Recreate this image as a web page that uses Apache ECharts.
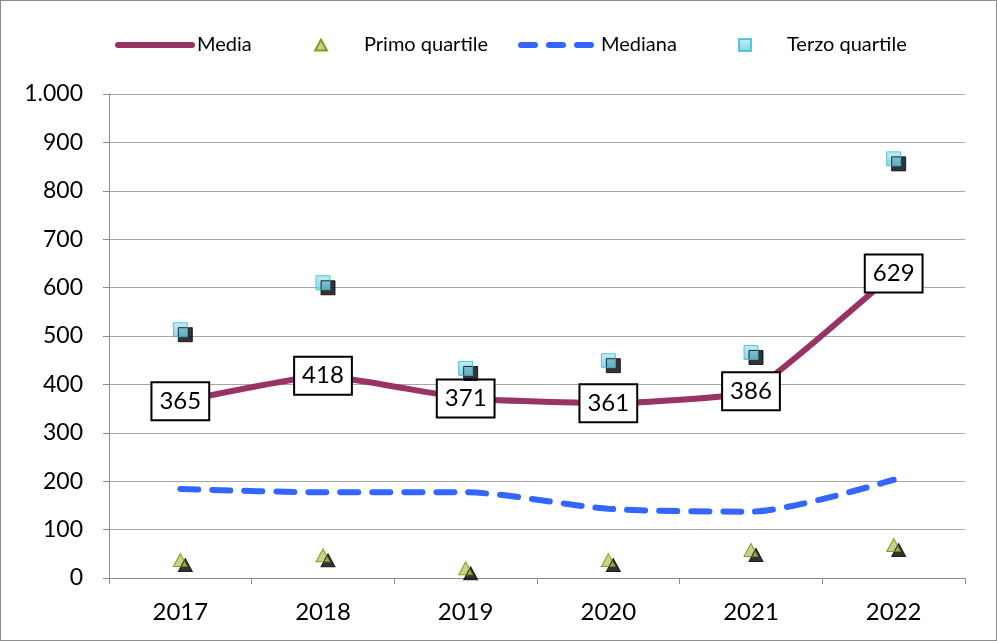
<!DOCTYPE html>
<html>
<head>
<meta charset="utf-8">
<script src="https://cdn.jsdelivr.net/npm/echarts@6/dist/echarts.min.js"></script>
<style>
  html, body { margin: 0; padding: 0; background: #fff; }
  #chart { width: 995px; height: 639px; border: 1px solid #8c8c8c; }
</style>
</head>
<body>
<div id="chart"></div>
<script>
const years = ['2017', '2018', '2019', '2020', '2021', '2022'];
const media = [365, 418, 371, 361, 386, 629];
const mediana = [184, 177, 177, 143, 137, 203];
const primoQuartile = [37, 47, 20, 37, 58, 68];
const terzoQuartile = [513, 610, 433, 449, 466, 866];

const FONT = 'Lato, "Liberation Sans", sans-serif';
const shadow = { shadowColor: '#000', shadowBlur: 0, shadowOffsetX: 5, shadowOffsetY: 5 };

const chart = echarts.init(document.getElementById('chart'));

const legendText = { color: '#000', fontFamily: FONT, fontSize: 20 };
// line legend icons: hide the point symbol, keep the thick line
const lineLegend = (name, extra) => ({
  name,
  itemStyle: { opacity: 0 },
  lineStyle: { width: 6, cap: 'round', ...extra }
});

chart.setOption({
  backgroundColor: '#fff',
  animation: false,
  legend: [
    {
      data: [lineLegend('Media')], left: 109, top: 29, itemWidth: 74, itemHeight: 12, itemGap: 0,
      textStyle: legendText
    },
    {
      data: ['Primo quartile'], left: 308, top: 29, itemWidth: 12, itemHeight: 11, itemGap: 0,
      textStyle: { ...legendText, padding: [0, 0, 0, 32] }
    },
    {
      data: [lineLegend('Mediana', { type: [14, 14] })], left: 512, top: 29, itemWidth: 75, itemHeight: 12, itemGap: 0,
      textStyle: legendText
    },
    {
      data: ['Terzo quartile'], left: 732, top: 29, itemWidth: 12, itemHeight: 12, itemGap: 0,
      textStyle: { ...legendText, padding: [0, 0, 0, 31] }
    }
  ],
  grid: { left: 108, right: 31, top: 93, bottom: 62, containLabel: false },
  xAxis: {
    type: 'category',
    data: years,
    boundaryGap: true,
    axisLine: { lineStyle: { color: '#8c8c8c', width: 1 } },
    axisTick: { show: true, length: 6, lineStyle: { color: '#8c8c8c' } },
    axisLabel: { color: '#000', fontFamily: FONT, fontSize: 24, margin: 22 }
  },
  yAxis: {
    type: 'value',
    min: 0,
    max: 1000,
    interval: 100,
    axisLine: { show: true, lineStyle: { color: '#8c8c8c', width: 1 } },
    axisTick: { show: true, length: 6, lineStyle: { color: '#8c8c8c' } },
    splitLine: { lineStyle: { color: '#a6a6a6', width: 1 } },
    axisLabel: {
      color: '#000', fontFamily: FONT, fontSize: 23, margin: 26,
      formatter: v => v >= 1000 ? Math.floor(v / 1000) + '.' + String(v % 1000).padStart(3, '0') : String(v)
    }
  },
  series: [
    {
      name: 'Media',
      type: 'line',
      data: media,
      smooth: 0.12,
      symbol: 'circle',
      symbolSize: 0,
      showSymbol: true,
      z: 3,
      lineStyle: { color: '#993366', width: 6, cap: 'round' },
      itemStyle: { color: '#993366' },
      label: {
        show: true,
        position: 'inside',
        color: '#000',
        fontFamily: FONT,
        fontSize: 24,
        backgroundColor: '#fff',
        borderColor: '#000',
        borderWidth: 2,
        padding: [7, 7, 5, 7]
      }
    },
    {
      name: 'Primo quartile',
      type: 'scatter',
      data: primoQuartile,
      symbol: 'triangle',
      symbolSize: [14, 13],
      z: 4,
      itemStyle: { color: '#b9c86a', borderColor: '#7f7f00', borderWidth: 1, ...shadow }
    },
    {
      name: 'Mediana',
      type: 'line',
      data: mediana,
      smooth: 0.25,
      symbol: 'none',
      z: 2,
      lineStyle: { color: '#3366ff', width: 6, type: [18, 14], cap: 'round' },
      itemStyle: { color: '#3366ff' }
    },
    {
      name: 'Terzo quartile',
      type: 'scatter',
      data: terzoQuartile,
      symbol: 'rect',
      symbolSize: 14,
      z: 4,
      itemStyle: {
        color: new echarts.graphic.LinearGradient(0, 0, 0, 1, [
          { offset: 0, color: '#b6e8f6' },
          { offset: 1, color: '#6ccbe6' }
        ]),
        borderColor: '#33bcc8',
        borderWidth: 1,
        ...shadow
      }
    }
  ]
});
</script>
</body>
</html>
